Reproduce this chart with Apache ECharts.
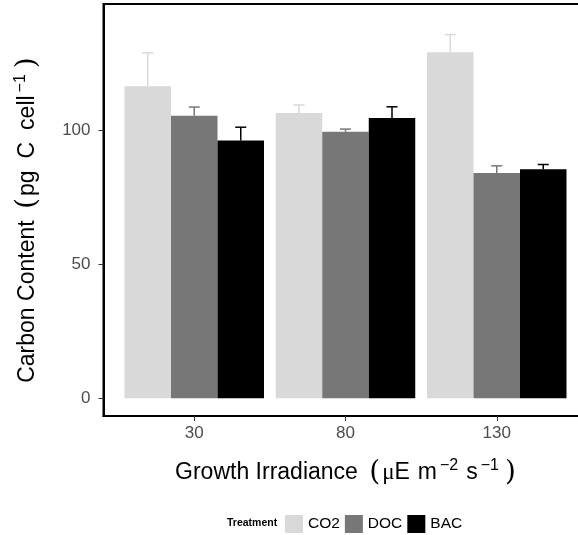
<!DOCTYPE html>
<html>
<head>
<meta charset="utf-8">
<title>Carbon Content</title>
<script src="https://cdn.jsdelivr.net/npm/echarts@6/dist/echarts.min.js"></script>
<style>
	html,body{margin:0;padding:0;background:#fff;}
	#chart1{width:578px;height:535px;}
</style>
</head>
<body>
<div id="chart1"></div>
<script>
// data
var categories = ['30', '80', '130'];
var treatments = ['CO2', 'DOC', 'BAC'];
var co2 = [116.3, 106.3, 128.9];
var co2Err = [12.4, 3.0, 6.6];
var doc = [105.3, 99.3, 83.9];
var docErr = [3.2, 1.0, 2.7];
var bac = [96.0, 104.4, 85.3];
var bacErr = [5.0, 4.2, 1.8];
var yTicks = [0, 50, 100];

var colors = ['#d9d9d9', '#777777', '#000000'];
var FONT = "'Liberation Sans', Arial, Helvetica, sans-serif";
var BAR_W = 46.5;

var Chart = {
	init: function () {
		Chart.initEchart1();
	},

	pairs: function (vals) {
		// category i sits at position i + 1 on the x scale
		return vals.map(function (v, i) { return [i + 1, v]; });
	},

	errPairs: function (vals, errs) {
		return vals.map(function (v, i) { return [i + 1, v, v + errs[i]]; });
	},

	titleRich: function (gap, tail) {
		return {
			a: { fontSize: 23, fontFamily: FONT, color: '#000' },
			b: { fontSize: 23, fontFamily: FONT, color: '#000', padding: [0, 0, 0, gap] },
			p: { fontSize: 28, fontFamily: "'DejaVu Serif', serif", color: '#000', padding: [0, 2, 0, 5] },
			q: { fontSize: 28, fontFamily: "'DejaVu Serif', serif", color: '#000', padding: [0, tail, 0, 6] },
			m: { fontSize: 23, fontFamily: "'Liberation Serif', serif", color: '#000' },
			s: { fontSize: 16, fontFamily: FONT, color: '#000', padding: [0, 0, 14, 3] }
		};
	},

	initEchart1: function () {
		var myChart = echarts.init(document.getElementById('chart1'));
		var means = [co2, doc, bac];
		var errs = [co2Err, docErr, bacErr];
		var series = [];

		treatments.forEach(function (name, k) {
			series.push({
				name: name,
				type: 'bar',
				barWidth: BAR_W,
				barGap: '0%',
				itemStyle: { color: colors[k] },
				data: Chart.pairs(means[k]),
				z: 2
			});
		});

		treatments.forEach(function (name, k) {
			series.push({
				name: name + ' err',
				type: 'custom',
				z: 1,
				renderItem: function (params, api) {
					var x = api.value(0);
					var base = api.coord([x, api.value(1)]);
					var top = api.coord([x, api.value(2)]);
					var cx = base[0] + (k - 1) * BAR_W;
					var cap = 5.5;
					var st = { stroke: colors[k], lineWidth: 1.5 };
					return {
						type: 'group',
						children: [
							{ type: 'line', shape: { x1: cx, y1: base[1], x2: cx, y2: top[1] }, style: st },
							{ type: 'line', shape: { x1: cx - cap, y1: top[1], x2: cx + cap, y2: top[1] }, style: st }
						]
					};
				},
				data: Chart.errPairs(means[k], errs[k])
			});
		});

		var option = {
			animation: false,
			backgroundColor: '#fff',
			textStyle: { fontFamily: FONT },
			grid: {
				left: 103.5,
				top: 4,
				width: 484,
				height: 412,
				outerBoundsMode: 'none',
				containLabel: false,
				show: true,
				borderColor: '#000',
				borderWidth: 2,
				backgroundColor: '#fff'
			},
			legend: {
				data: treatments,
				left: 285,
				top: 515,
				padding: 0,
				icon: 'rect',
				itemWidth: 18,
				itemHeight: 18,
				itemGap: 5,
				selectedMode: false,
				textStyle: { fontFamily: FONT, fontSize: 15.5, color: '#000' }
			},
			graphic: [{
				type: 'text',
				left: 227,
				top: 518,
				style: { text: 'Treatment', font: 'bold 10.5px ' + FONT, fill: '#000' }
			}],
			xAxis: {
				type: 'value',
				min: 0.4,
				max: 3.6,
				splitLine: { show: false },
				axisLine: { show: true, onZero: false, lineStyle: { color: '#000', width: 2 } },
				axisTick: { show: true, length: 5, customValues: [1, 2, 3], lineStyle: { color: '#333' } },
				axisLabel: {
					customValues: [1, 2, 3],
					color: '#4d4d4d',
					fontSize: 17,
					fontFamily: FONT,
					margin: 9,
					formatter: function (v) { return categories[Math.round(v) - 1]; }
				},
				name: '{a|Growth Irradiance }{p|(}{m|μ}{a|E}{b|m}{s|−2}{b|s}{s|−1}{q|)}',
				nameLocation: 'middle',
				nameGap: 42,
				nameTextStyle: { rich: Chart.titleRich(8, 0) }
			},
			yAxis: {
				type: 'value',
				min: -6.6,
				max: 146.9,
				splitLine: { show: false },
				axisLine: { show: true, onZero: false, lineStyle: { color: '#000', width: 2 } },
				axisTick: { show: true, length: 5, customValues: yTicks, lineStyle: { color: '#333' } },
				axisLabel: {
					customValues: yTicks,
					color: '#4d4d4d',
					fontSize: 17,
					fontFamily: FONT,
					margin: 13
				},
				name: '{a|Carbon Content }{p|(}{a|pg}{b|C}{b|cell}{s|−1}{q|)}',
				nameLocation: 'middle',
				nameRotate: 90,
				nameGap: 61,
				nameTextStyle: { rich: Chart.titleRich(12, 20) }
			},
			series: series
		};

		window.addEventListener("resize", function () {
			myChart.resize();
		});
		myChart.setOption(option, true);
	}
};

Chart.init();
</script>
</body>
</html>
